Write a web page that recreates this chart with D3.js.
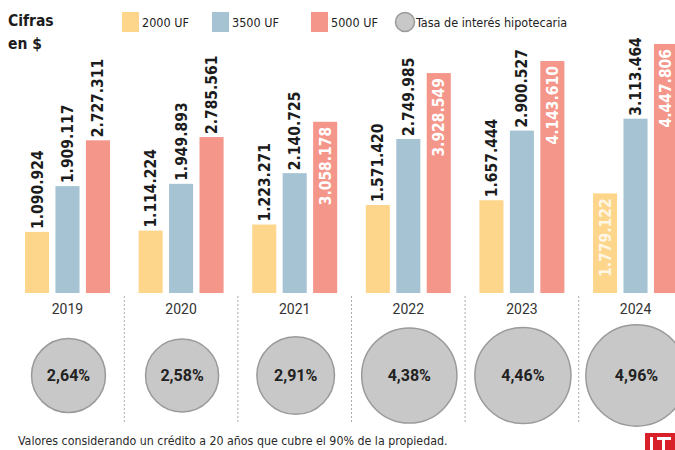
<!DOCTYPE html>
<html>
<head>
<meta charset="utf-8">
<script src="https://cdn.jsdelivr.net/npm/d3@7"></script>
<style>
  body { margin: 0; background: #fff; }
  svg { display: block; font-family: "Liberation Sans Narrow", "DejaVu Sans Condensed", "Roboto", sans-serif; }
</style>
</head>
<body>
<div id="grafico"></div>
<script>
const width  = 675;
const height = 450;

// datos
const years  = ["2019", "2020", "2021", "2022", "2023", "2024"];
const series = ["2000 UF", "3500 UF", "5000 UF"];
const uf2000 = [1090924, 1114224, 1223271, 1571420, 1657444, 1779122];
const uf3500 = [1909117, 1949893, 2140725, 2749985, 2900527, 3113464];
const uf5000 = [2727311, 2785561, 3058178, 3928549, 4143610, 4447806];
const tasa   = [2.64, 2.58, 2.91, 4.38, 4.46, 4.96];
const insideLabels = ["2021|5000 UF", "2022|5000 UF", "2023|5000 UF", "2024|5000 UF", "2024|2000 UF"];

const colors = { "2000 UF": "#fdd68c", "3500 UF": "#a6c3d3", "5000 UF": "#f5968a" };
const fmt = d3.formatLocale({ decimal: ",", thousands: ".", grouping: [3], currency: ["$", ""] });
const fmtNum  = fmt.format(",d");
const fmtTasa = v => fmt.format(".2f")(v) + "%";

const rows = [];
years.forEach((y, i) => {
  [uf2000, uf3500, uf5000].forEach((arr, j) => {
    rows.push({ year: y, serie: series[j], value: arr[i] });
  });
});

const isInside = d => insideLabels.includes(d.year + "|" + d.serie);

const svg = d3.select("#grafico")
              .append("svg")
              .attr("width", width)
              .attr("height", height);

svg.append("rect").attr("width", width).attr("height", height).attr("fill", "#fff");

const baseline = 293;

const xScale = d3.scaleBand()
                 .domain(years)
                 .range([25, 678])
                 .paddingInner(0.252)
                 .paddingOuter(0);

const xSub = d3.scaleBand()
               .domain(series)
               .range([0, xScale.bandwidth()])
               .paddingInner(0.21);

const yScale = d3.scaleLinear()
                 .domain([0, d3.max(uf5000)])
                 .range([baseline, 44]);

const rScale = d3.scaleSqrt()
                 .domain([0, d3.max(tasa)])
                 .range([0, 22.75 * Math.sqrt(d3.max(tasa))]);

// separadores punteados
const step = xScale.step();
svg.selectAll(".sep")
   .data(years.slice(1))
   .join("line")
   .attr("x1", d => xScale(d) - (step - xScale.bandwidth()) / 2)
   .attr("x2", d => xScale(d) - (step - xScale.bandwidth()) / 2)
   .attr("y1", 296)
   .attr("y2", 424)
   .attr("stroke", "#aaa")
   .attr("stroke-width", 1)
   .attr("stroke-dasharray", "2,2");

// barras
svg.selectAll(".bar")
   .data(rows)
   .join("rect")
   .attr("x", d => xScale(d.year) + xSub(d.serie))
   .attr("y", d => yScale(d.value))
   .attr("width", xSub.bandwidth())
   .attr("height", d => baseline - yScale(d.value))
   .attr("fill", d => colors[d.serie]);

// etiquetas verticales
svg.selectAll(".lbl")
   .data(rows)
   .join("text")
   .attr("transform", d => {
     const cx = xScale(d.year) + xSub(d.serie) + xSub.bandwidth() / 2 + 5.5;
     const y = isInside(d) ? yScale(d.value) + 5 : yScale(d.value) - 3;
     return `translate(${cx},${y}) rotate(-90)`;
   })
   .attr("text-anchor", d => isInside(d) ? "end" : "start")
   .attr("font-size", 15.5)
   .attr("font-weight", "bold")
   .attr("fill", d => isInside(d) ? "#fff" : "#1c1c1c")
   .attr("fill-opacity", d => d.serie === "2000 UF" && isInside(d) ? 0.8 : 1)
   .text(d => fmtNum(d.value));

// eje de años
const xAxis = svg.append("g")
                 .attr("transform", `translate(0, ${baseline})`)
                 .call(d3.axisBottom(xScale).tickSize(0).tickPadding(11));
xAxis.select(".domain").remove();
xAxis.selectAll("text")
     .attr("font-family", "Roboto, sans-serif")
     .attr("font-size", 14)
     .attr("fill", "#333");

// circulos de tasa
const circ = svg.selectAll(".tasa")
                .data(years.map((y, i) => ({ year: y, tasa: tasa[i] })))
                .join("g")
                .attr("transform", d => `translate(${xScale(d.year) + xScale.bandwidth() / 2 + 1}, 375.5)`);

circ.append("circle")
    .attr("r", d => rScale(d.tasa))
    .attr("fill", "#c8c8c8")
    .attr("stroke", "#9a9a9a")
    .attr("stroke-width", 1.5);

circ.append("text")
    .attr("text-anchor", "middle")
    .attr("dy", "0.36em")
    .attr("font-family", "Roboto, sans-serif")
    .attr("font-size", 16)
    .attr("font-weight", "bold")
    .attr("fill", "#222")
    .text(d => fmtTasa(d.tasa));

// titulo
svg.append("text").attr("x", 8).attr("y", 26)
   .attr("font-size", 15.5).attr("font-weight", "bold").attr("fill", "#1c1c1c")
   .text("Cifras");
svg.append("text").attr("x", 8).attr("y", 49)
   .attr("font-size", 15.5).attr("font-weight", "bold").attr("fill", "#1c1c1c")
   .text("en $");

// leyenda
const legendX = [122, 212, 311];
series.forEach((s, i) => {
  svg.append("rect").attr("x", legendX[i]).attr("y", 12).attr("width", 17).attr("height", 20)
     .attr("fill", colors[s]);
  svg.append("text").attr("x", legendX[i] + 20).attr("y", 27)
     .attr("font-size", 12.5).attr("fill", "#222").text(s);
});
svg.append("circle").attr("cx", 405).attr("cy", 22).attr("r", 9.5)
   .attr("fill", "#c8c8c8").attr("stroke", "#9a9a9a").attr("stroke-width", 1.5);
svg.append("text").attr("x", 416).attr("y", 27)
   .attr("font-size", 12.5).attr("fill", "#222").text("Tasa de interés hipotecaria");

// nota
svg.append("text").attr("x", 18).attr("y", 445)
   .attr("font-size", 12.3).attr("fill", "#2a2a2a")
   .text("Valores considerando un crédito a 20 años que cubre el 90% de la propiedad.");

// logo
const logo = svg.append("g").attr("transform", "translate(645, 433)");
logo.append("rect").attr("width", 30).attr("height", 17).attr("fill", "#d8202a");
logo.append("rect").attr("x", 5).attr("y", 4).attr("width", 3).attr("height", 13).attr("fill", "#fff");
logo.append("rect").attr("x", 12).attr("y", 4).attr("width", 14).attr("height", 3).attr("fill", "#fff");
logo.append("rect").attr("x", 17).attr("y", 4).attr("width", 3).attr("height", 13).attr("fill", "#fff");
</script>
</body>
</html>
